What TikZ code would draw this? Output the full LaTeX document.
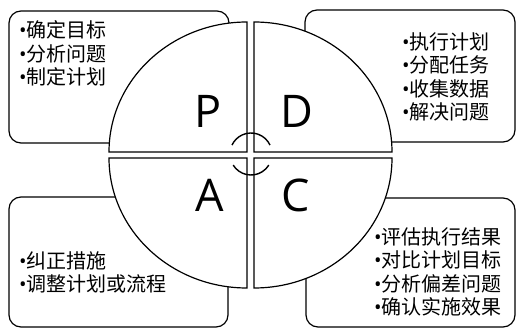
\documentclass[tikz,border=0pt]{standalone}
\usepackage{fontspec}
\setmainfont{Open Sans}
\newfontfamily\cjk{Noto Sans CJK SC}
\usepackage{tikz}
\usetikzlibrary{calc}
\newcommand{\itm}{{\normalfont•}}

\begin{document}
\begin{tikzpicture}[x=1pt,y=1pt,
	box/.style={draw, line width=1.2pt, rounded corners=12pt, fill=white},
	quad/.style={draw, line width=1.2pt, fill=white},
	items/.style={anchor=west, align=left, inner sep=0pt, font=\cjk\fontsize{20pt}{23.5pt}\selectfont},
	letter/.style={inner sep=0pt, font=\fontsize{45pt}{45pt}\selectfont}]
	\useasboundingbox (0,0) rectangle (516,329);

	% Points
	\coordinate (cp) at (247,177);
	\coordinate (cd) at (254,177);
	\coordinate (ca) at (247,171);
	\coordinate (cc) at (254,171);
	\coordinate (mid) at (251,175);

	% Boxes
	\draw[box] (9,186) rectangle (229,318);
	\draw[box] (305,187) rectangle (515,319);
	\draw[box] (9,2) rectangle (228,132);
	\draw[box] (306,2) rectangle (515,131);

	% Quarters
	\draw[quad] (cp) -- ++(-138,0) arc[start angle=180,end angle=90,x radius=138,y radius=130] -- cycle;
	\draw[quad] (cd) -- ++(0,130) arc[start angle=90,end angle=0,x radius=138,y radius=130] -- cycle;
	\draw[quad] (ca) -- ++(0,-130) arc[start angle=270,end angle=180,x radius=138,y radius=130] -- cycle;
	\draw[quad] (cc) -- ++(138,0) arc[start angle=0,end angle=-90,x radius=138,y radius=130] -- cycle;

	% Center mark
	\draw[line width=1.4pt] (mid) ++(25:21) arc[start angle=25,end angle=155,radius=21];
	\draw[line width=1.4pt] (mid) ++(212:21) arc[start angle=212,end angle=328,radius=21];

	% Letters
	\node[letter] (P) at (208,218) {P};
	\node[letter] (D) at (297,218) {D};
	\node[letter] (A) at (210,134) {A};
	\node[letter] (C) at (296,134) {C};

	% Lists
	\node[items] (plan) at (19,275.5) {\itm 确定目标\\\itm 分析问题\\\itm 制定计划};
	\node[items] (do) at (402,252) {\itm 执行计划\\\itm 分配任务\\\itm 收集数据\\\itm 解决问题};
	\node[items] (act) at (19,56.5) {\itm 纠正措施\\\itm 调整计划或流程};
	\node[items] (check) at (374,57) {\itm 评估执行结果\\\itm 对比计划目标\\\itm 分析偏差问题\\\itm 确认实施效果};
\end{tikzpicture}
\end{document}
